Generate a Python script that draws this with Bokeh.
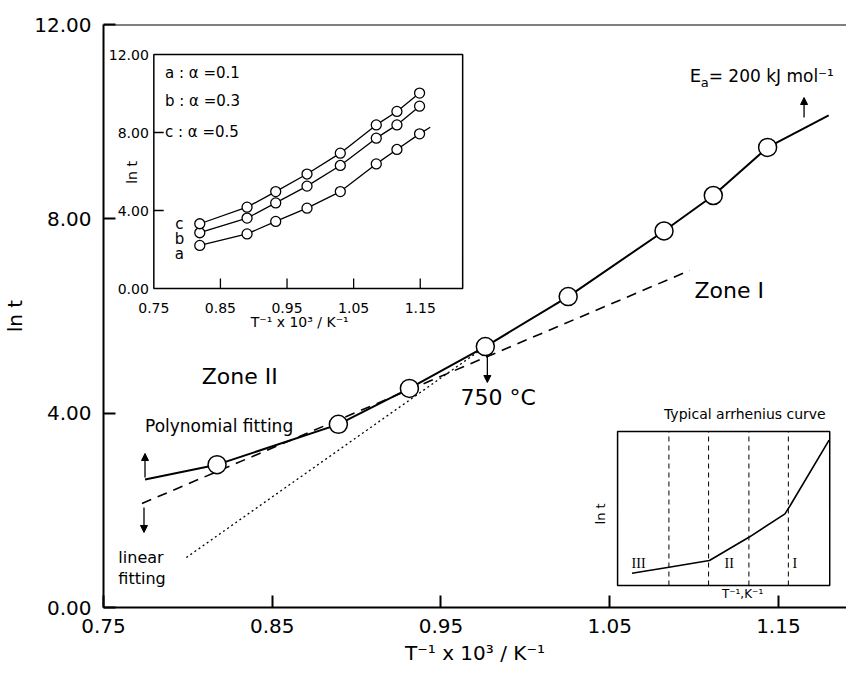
import math
from bokeh.plotting import figure
from bokeh.models import (ColumnDataSource, Range1d, Arrow, NormalHead, Span,
                          FixedTicker, NumeralTickFormatter)
from bokeh.core.properties import value
from bokeh.embed import file_html
from bokeh.resources import INLINE

# ---------------- data ----------------
# main plot: measured points, ln t vs 1/T x 10^3
inv_T = [0.8173, 0.8892, 0.9313, 0.9763, 1.0254, 1.0822, 1.1114, 1.1436]
ln_t = [2.94, 3.77, 4.51, 5.37, 6.40, 7.75, 8.48, 9.47]
# polynomial fitting curve (solid)
fit_x = [0.7746, 0.8173, 0.8892, 0.9313, 0.9763, 1.0254, 1.0822, 1.1114, 1.1436, 1.1798]
fit_y = [2.635, 2.94, 3.77, 4.51, 5.37, 6.40, 7.75, 8.48, 9.47, 10.13]
# linear fitting of zone II (dashed)
lin2_x = [0.7728, 1.0974]
lin2_y = [2.141, 6.937]
# extrapolation of zone I (dotted)
lin1_x = [0.7991, 0.9763]
lin1_y = [1.029, 5.37]
x_ticks = [0.75, 0.85, 0.95, 1.05, 1.15]
y_ticks = [0, 4, 8, 12]

# inset 1: ln t for three conversions
ins_x = [0.819, 0.890, 0.933, 0.980, 1.030, 1.084, 1.115, 1.149]
ins_a = [2.21, 2.80, 3.44, 4.12, 4.97, 6.39, 7.13, 7.93]
ins_b = [2.86, 3.61, 4.39, 5.25, 6.31, 7.71, 8.39, 9.35]
ins_c = [3.32, 4.17, 4.97, 5.87, 6.94, 8.39, 9.08, 10.02]
ins_a_tail_x = [1.165]
ins_a_tail_y = [8.27]
ins_x_labels = ["0.75", "0.85", "0.95", "1.05", "1.15"]
ins_y_labels = ["0.00", "4.00", "8.00", "12.00"]
legend_lines = ["a : \u03b1 =0.1", "b : \u03b1 =0.3", "c : \u03b1 =0.5"]

# inset 2: schematic arrhenius curve (normalised units)
typ_x = [0.068, 0.242, 0.433, 0.619, 0.789, 0.813, 0.997]
typ_y = [0.080, 0.119, 0.162, 0.313, 0.465, 0.518, 0.944]
zone_bounds = [0.242, 0.429, 0.619, 0.805]
zone_names = ["III", "II", "I"]

# ---------------- layout constants (page pixels) ----------------
PAGE_X, PAGE_Y = 8, 0
W, H = 846, 667
FL, FR, FT, FB = 101, 854, 24, 607
X_PPU = 1710.0
Y_PPU = (FB - FT) / 12.0
FONT = "DejaVu Sans"


def xrange_for(p0, v0, ppu):
    return Range1d(v0 + (FL - p0) / ppu, v0 + (FR - p0) / ppu)


def yrange_for(p0, v0, ppu):
    return Range1d(v0 + (p0 - FB) / ppu, v0 + (p0 - FT) / ppu)


p = figure(width=W, height=H, output_backend="svg", toolbar_location=None,
           x_range=xrange_for(FL, 0.75, X_PPU), y_range=yrange_for(FB, 0.0, Y_PPU),
           min_border_left=FL - PAGE_X, min_border_right=PAGE_X + W - FR,
           min_border_top=FT - PAGE_Y, min_border_bottom=PAGE_Y + H - FB,
           background_fill_color="white", border_fill_color="white")
p.outline_line_color = None
p.grid.visible = False

# inset ranges
I1_P0X, I1_PPUX, I1_P0Y, I1_PPUY = 152, 675.0, 288, 19.5
I1_XR = 0.75 + (465 - 152) / 675.0
I2_P0X, I2_PPUX, I2_P0Y, I2_PPUY = 622, 215.0, 585, 154.0
p.extra_x_ranges = {"i1x": xrange_for(I1_P0X, 0.75, I1_PPUX),
                    "i2x": xrange_for(I2_P0X, 0.0, I2_PPUX)}
p.extra_y_ranges = {"i1y": yrange_for(I1_P0Y, 0.0, I1_PPUY),
                    "i2y": yrange_for(I2_P0Y, 0.0, I2_PPUY)}

# ---------------- main axes ----------------
for ax in (p.xaxis[0], p.yaxis[0]):
    ax.axis_line_width = 2
    ax.major_tick_line_width = 2
    ax.major_tick_in = 12
    ax.major_tick_out = 0
    ax.minor_tick_line_color = None
    ax.major_label_text_font = FONT
    ax.major_label_text_font_size = "20px"
    ax.major_label_text_color = "black"
    ax.axis_label_text_font = FONT
    ax.axis_label_text_font_size = "20px"
    ax.axis_label_text_font_style = "normal"
    ax.axis_label_text_color = "black"
    ax.formatter = NumeralTickFormatter(format="0.00")
p.xaxis.ticker = FixedTicker(ticks=x_ticks)
p.yaxis.ticker = FixedTicker(ticks=y_ticks)
p.xaxis.axis_label = "T\u207b\u00b9 x 10\u00b3 / K\u207b\u00b9"
p.yaxis.axis_label = "ln t"
p.xaxis.major_label_standoff = 11
p.xaxis.axis_label_standoff = 5
p.yaxis.major_label_standoff = 12
p.yaxis.axis_label_standoff = 4
p.add_layout(Span(location=12, dimension="width", line_color="black", line_width=2))

# ---------------- main glyphs ----------------
p.line(lin1_x, lin1_y, line_color="black", line_width=1.3, line_dash="2 3")
p.line(lin2_x, lin2_y, line_color="black", line_width=1.6, line_dash="10 7")
p.line(fit_x, fit_y, line_color="black", line_width=2)
p.scatter(inv_T, ln_t, marker="circle", size=18, fill_color="white",
          line_color="black", line_width=1.5)

arrows = ColumnDataSource(dict(
    x0=[1.1652, 0.9775, 0.7746, 0.7740],
    y0=[10.086, 5.187, 2.676, 2.058],
    x1=[1.1652, 0.9775, 0.7746, 0.7740],
    y1=[10.497, 4.631, 3.170, 1.544]))
p.add_layout(Arrow(source=arrows, x_start="x0", y_start="y0", x_end="x1", y_end="y1",
                   line_width=1.3, line_color="black",
                   end=NormalHead(size=7, fill_color="black", line_color="black")))

p.text(x=[1.1208, 0.8307], y=[6.53, 4.755], text=["Zone I", "Zone II"],
       text_font=value(FONT), text_font_size="22px", text_align="center",
       text_baseline="middle", text_color="black")
p.text(x=[0.9839], y=[4.322], text=["750 \u00b0C"], text_font=value(FONT),
       text_font_size="22px", text_align="center", text_baseline="middle")
p.text(x=[0.7746], y=[3.746], text=["Polynomial fitting"], text_font=value(FONT),
       text_font_size="17px", text_align="left", text_baseline="middle")
p.text(x=[0.7588, 0.7588], y=[1.029, 0.597], text=["linear", "fitting"],
       text_font=value(FONT), text_font_size="16px", text_align="left",
       text_baseline="middle")
p.text(x=[1.0974], y=[10.95], text=["E"], text_font=value(FONT),
       text_font_size="18px", text_align="left", text_baseline="middle")
p.text(x=[1.0974], y=[10.95], text=["a"], x_offset=11, y_offset=7, text_font=value(FONT),
       text_font_size="13px", text_align="left", text_baseline="middle")
p.text(x=[1.0974], y=[10.95], text=["= 200 kJ mol\u207b\u00b9"], x_offset=19,
       text_font=value(FONT), text_font_size="17px", text_align="left",
       text_baseline="middle")

# ---------------- inset 1 ----------------
R1 = dict(x_range_name="i1x", y_range_name="i1y")
p.quad(left=[0.75], right=[I1_XR], bottom=[0], top=[12], fill_color="white",
       line_color="black", line_width=1.5, **R1)
tick_len_y = 10 / I1_PPUY
tick_len_x = 10 / I1_PPUX
p.segment(x0=x_ticks[1:], y0=[0] * 4, x1=x_ticks[1:], y1=[tick_len_y] * 4,
          line_color="black", line_width=1.3, **R1)
p.segment(x0=[0.75] * 2, y0=y_ticks[1:3], x1=[0.75 + tick_len_x] * 2, y1=y_ticks[1:3],
          line_color="black", line_width=1.3, **R1)
p.text(x=x_ticks, y=[0] * 5, text=ins_x_labels, y_offset=19, text_font=value(FONT),
       text_font_size="14px", text_align="center", text_baseline="middle", **R1)
p.text(x=[0.75] * 4, y=y_ticks, text=ins_y_labels, x_offset=-5, text_font=value(FONT),
       text_font_size="14px", text_align="right", text_baseline="middle", **R1)
p.text(x=[0.969], y=[-1.74], text=["T\u207b\u00b9 x 10\u00b3 / K\u207b\u00b9"],
       text_font=value(FONT), text_font_size="14px", text_align="center",
       text_baseline="middle", **R1)
p.text(x=[0.7174], y=[5.95], text=["ln t"], angle=math.pi / 2, text_font=value(FONT),
       text_font_size="14px", text_align="center", text_baseline="middle", **R1)

p.line(ins_x + ins_a_tail_x, ins_a + ins_a_tail_y, line_color="black", line_width=1.3, **R1)
p.line(ins_x, ins_b, line_color="black", line_width=1.3, **R1)
p.line(ins_x, ins_c, line_color="black", line_width=1.3, **R1)
for ys in (ins_a, ins_b, ins_c):
    p.scatter(ins_x, ys, marker="circle", size=10, fill_color="white",
              line_color="black", line_width=1.3, **R1)
p.text(x=[0.7885] * 3, y=[3.33, 2.56, 1.79], text=["c", "b", "a"], text_font=value(FONT),
       text_font_size="15px", text_align="center", text_baseline="middle", **R1)
p.text(x=[0.7667] * 3, y=[11.03, 9.59, 8.05], text=legend_lines, text_font=value(FONT),
       text_font_size="15px", text_align="left", text_baseline="middle", **R1)

# ---------------- inset 2 ----------------
R2 = dict(x_range_name="i2x", y_range_name="i2y")
p.quad(left=[0], right=[1], bottom=[0], top=[1], fill_color="white",
       line_color="black", line_width=1.5, **R2)
p.segment(x0=zone_bounds, y0=[0] * 4, x1=zone_bounds, y1=[1] * 4, line_color="black",
          line_width=1, line_dash="5 4", **R2)
p.line(typ_x, typ_y, line_color="black", line_width=1.6, **R2)
p.text(x=[0.099, 0.526, 0.836], y=[0.14] * 3, text=zone_names,
       text_font=value("Liberation Serif"), text_font_size="14px", text_align="center",
       text_baseline="middle", **R2)
p.text(x=[0.6], y=[1.115], text=["Typical arrhenius curve"], text_font=value(FONT),
       text_font_size="14px", text_align="center", text_baseline="middle", **R2)
p.text(x=[-0.079], y=[0.465], text=["ln t"], angle=math.pi / 2, text_font=value(FONT),
       text_font_size="13px", text_align="center", text_baseline="middle", **R2)
p.text(x=[0.589], y=[-0.054], text=["T\u207b\u00b9,K\u207b\u00b9"], text_font=value(FONT),
       text_font_size="12px", text_align="center", text_baseline="middle", **R2)

open("out.html", "w").write(file_html(p, INLINE))
